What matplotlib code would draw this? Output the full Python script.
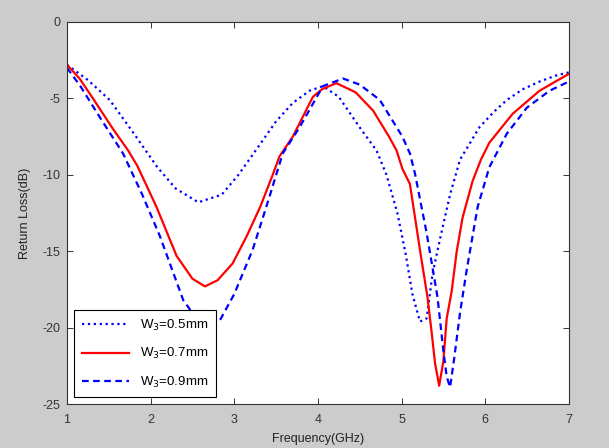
import matplotlib
matplotlib.use("Agg")
import matplotlib.pyplot as plt

# Frequency (GHz) / Return loss (dB)
f_05 = [1.0, 1.25, 1.51, 1.8, 2.08, 2.3, 2.57, 2.85, 3.05, 3.27, 3.5, 3.7, 3.9, 4.06, 4.25, 4.5, 4.7, 4.82, 4.95, 5.05, 5.13, 5.22, 5.3, 5.37, 5.46, 5.58, 5.70, 5.81, 5.93, 6.1, 6.26, 6.45, 6.65, 6.85, 7.0]
s_05 = [-2.8, -3.8, -5.1, -7.3, -9.5, -10.9, -11.8, -11.3, -10.0, -8.3, -6.5, -5.3, -4.5, -4.2, -4.9, -6.9, -8.4, -10.0, -12.5, -15.2, -17.8, -19.6, -19.4, -16.5, -14.2, -11.3, -9.0, -8.0, -6.9, -5.9, -5.1, -4.4, -3.9, -3.5, -3.3]

f_07 = [1.0, 1.15, 1.31, 1.55, 1.73, 1.84, 2.07, 2.31, 2.5, 2.65, 2.8, 2.98, 3.15, 3.31, 3.46, 3.54, 3.7, 3.94, 4.05, 4.22, 4.45, 4.66, 4.85, 4.94, 5.01, 5.10, 5.22, 5.31, 5.36, 5.40, 5.45, 5.50, 5.54, 5.60, 5.66, 5.73, 5.85, 5.95, 6.05, 6.33, 6.65, 7.0]
s_07 = [-2.8, -3.7, -5.0, -7.0, -8.4, -9.4, -12.1, -15.3, -16.8, -17.3, -16.9, -15.8, -14.0, -12.1, -10.0, -8.8, -7.5, -4.9, -4.4, -4.0, -4.6, -5.8, -7.5, -8.4, -9.6, -10.6, -14.9, -18.0, -20.3, -22.3, -23.8, -22.2, -19.4, -17.6, -15.0, -12.8, -10.4, -9.0, -7.9, -6.0, -4.5, -3.4]

f_09 = [1.0, 1.16, 1.4, 1.67, 1.9, 2.11, 2.39, 2.6, 2.83, 3.0, 3.22, 3.4, 3.58, 3.78, 4.06, 4.30, 4.5, 4.74, 5.01, 5.10, 5.16, 5.30, 5.43, 5.50, 5.54, 5.58, 5.63, 5.70, 5.78, 5.91, 6.05, 6.26, 6.50, 6.77, 7.0]
s_09 = [-3.0, -4.2, -6.3, -8.6, -11.3, -14.0, -18.2, -19.8, -19.5, -17.8, -14.9, -11.8, -8.6, -6.9, -4.2, -3.7, -4.1, -5.1, -7.5, -8.6, -9.9, -13.8, -18.0, -21.5, -23.2, -23.9, -22.0, -19.0, -16.2, -12.1, -9.5, -7.3, -5.6, -4.5, -3.9]

labels = ["W$_3$=0.5mm", "W$_3$=0.7mm", "W$_3$=0.9mm"]
xticks = [1, 2, 3, 4, 5, 6, 7]
yticks = [-25, -20, -15, -10, -5, 0]

plt.rcParams['font.family'] = ['Liberation Sans', 'DejaVu Sans']
plt.rcParams['axes.unicode_minus'] = False
fig = plt.figure(figsize=(6.09, 4.48), dpi=100, facecolor='#cccccc')
ax = fig.add_axes([0.110, 0.098, 0.824, 0.853])
ax.set_facecolor('white')

ax.plot(f_05, s_05, linestyle=':', color='#0000ff', lw=1.6, label=labels[0])
ax.plot(f_07, s_07, linestyle='-', color='#ff0000', lw=1.6, label=labels[1])
ax.plot(f_09, s_09, linestyle='--', color='#0000ff', lw=1.6, dashes=(3, 2), label=labels[2])

ax.set_xlim(1, 7)
ax.set_ylim(-25, 0)
ax.set_xticks(xticks)
ax.set_yticks(yticks)
ax.tick_params(direction='in', top=True, right=True, length=4, width=0.7,
               labelsize=9, colors='#333333', pad=5)
ax.tick_params(axis='x', pad=7)
for s in ax.spines.values():
    s.set_linewidth(0.8)
    s.set_color('#333333')
ax.set_xlabel('Frequency(GHz)', fontsize=9, labelpad=5, color='#222222')
ax.set_ylabel('Return Loss(dB)', fontsize=9, labelpad=8, color='#222222')

leg = ax.legend(loc='lower left', fontsize=9.5, frameon=True, fancybox=False,
                edgecolor='black', framealpha=1, borderpad=0.6, handlelength=3.6,
                handletextpad=0.8, labelspacing=1.0, borderaxespad=0.5)
leg.get_frame().set_linewidth(0.8)

fig.savefig('out.png', dpi=100, facecolor=fig.get_facecolor())
